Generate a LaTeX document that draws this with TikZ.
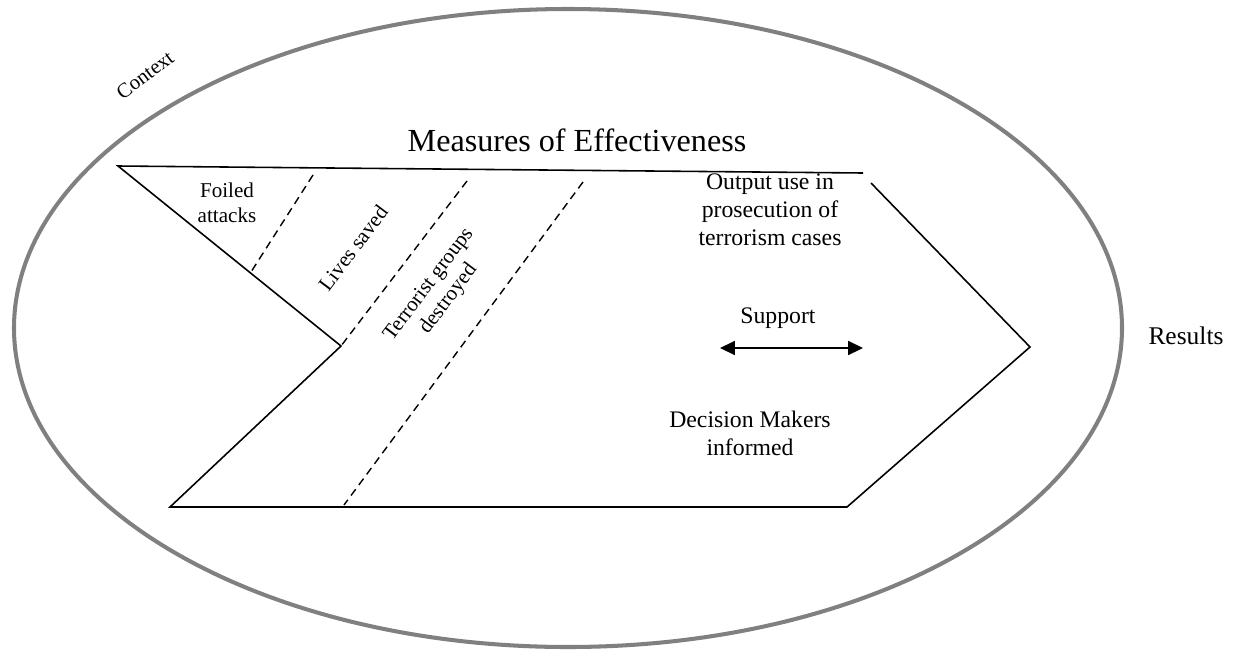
\documentclass[tikz,border=0pt]{standalone}
\usepackage{fontspec}
\setmainfont{Liberation Serif}
\usetikzlibrary{arrows.meta}

\begin{document}
\begin{tikzpicture}[x=0.02cm, y=-0.02cm,
    outline/.style={line width=0.9pt, line join=miter},
    divider/.style={line width=0.8pt, dash pattern=on 4.5pt off 3pt},
    label/.style={align=center, inner sep=0pt, font=\fontsize{13.5}{16}\selectfont},
    small label/.style={align=center, inner sep=0pt, font=\fontsize{12}{14}\selectfont}]
  \useasboundingbox (0,0) rectangle (1240,656);

  % context ring
  \draw[gray, line width=2.3pt] (568,328) ellipse [x radius=554, y radius=319];
  \node[small label, font=\fontsize{11.8}{13}\selectfont, rotate=37] (context) at (145,75) {Context};
  \node[inner sep=0pt, font=\fontsize{18.3}{21}\selectfont] (title) at (577,140) {Measures of Effectiveness};

  % chevron
  \coordinate (topend) at (863,173);
  \coordinate (tl) at (118,166);
  \coordinate (notch) at (341,346);
  \coordinate (bl) at (170,507);
  \coordinate (br) at (847,507);
  \coordinate (tip) at (1030,347);
  \coordinate (tr) at (871,183);
  \draw[outline] (topend) -- (tl) -- (notch) -- (bl) -- (br) -- (tip) -- (tr);

  % dividers
  \coordinate (d1a) at (313,175);
  \coordinate (d1b) at (251,272);
  \coordinate (d2a) at (467,181);
  \coordinate (d3a) at (583,182);
  \coordinate (d3b) at (344,505);
  \draw[divider] (d1a) -- (d1b);
  \draw[divider] (d2a) -- (notch);
  \draw[divider] (d3a) -- (d3b);

  \node[small label] (foiled) at (227,203) {Foiled\\attacks};
  \node[small label, rotate=53] (lives) at (353,248) {Lives saved};
  \node[small label, rotate=53] (groups) at (439,292) {Terrorist groups\\destroyed};

  \node[label, align=center] (output) at (770,210) {Output use in\\prosecution of\\terrorism cases};
  \node[label] (support) at (778,318) {Support};
  \node[label] (decision) at (750,433) {Decision Makers\\informed};
  \coordinate (sl) at (720,348);
  \coordinate (sr) at (863,348);
  \draw[line width=0.9pt, {Triangle[length=8.5pt,width=8pt]}-{Triangle[length=8.5pt,width=8pt]}] (sl) -- (sr);

  \node[label, font=\fontsize{14.5}{17}\selectfont] (results) at (1186,336) {Results};
\end{tikzpicture}
\end{document}
